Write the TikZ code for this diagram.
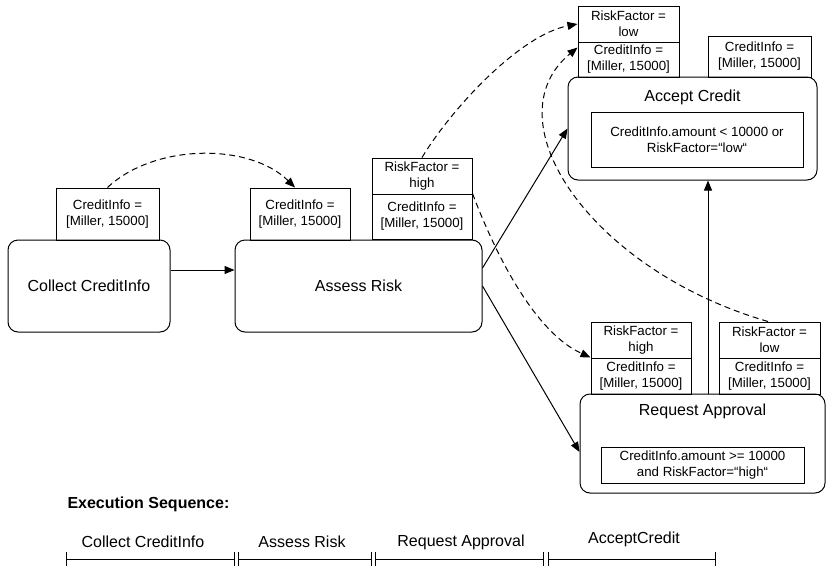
\documentclass[tikz,border=0pt]{standalone}
\usepackage{fontspec}
\setmainfont{Liberation Sans}
\usetikzlibrary{arrows.meta}
\newcommand{\cinfo}{CreditInfo =\\{[Miller, 15000]}}
\tikzset{
  act/.style={draw, rounded corners=10pt, line width=1pt, inner sep=0pt, font=\fontsize{16}{19}\selectfont},
  token/.style={draw, line width=1pt, inner sep=0pt, align=center, font=\fontsize{13.3}{16}\selectfont},
  guard/.style={draw, line width=0.9pt, inner sep=0pt, align=center, font=\fontsize{13.3}{16}\selectfont},
  big/.style={font=\fontsize{16}{19}\selectfont},
  flow/.style={line width=1pt, -{Triangle[length=10pt,width=8pt]}},
  moves/.style={flow, dash pattern=on 6pt off 4pt},
  seq/.style={line width=1pt, {Bar[width=14pt]}-{Bar[width=14pt]}},
}

\begin{document}
\begin{tikzpicture}[x=1pt, y=-1pt]
  \useasboundingbox (0,0) rectangle (826,568);

  % Aktivitaeten
  \node[act, minimum width=162, minimum height=92] (collect) at (89,286) {Collect CreditInfo};
  \node[act, minimum width=247, minimum height=92] (assess) at (358.5,286) {Assess Risk};
  \node[act, minimum width=249, minimum height=103] (accept) at (692.5,128.5) {};
  \node[big] (acceptT) at (692.5,97) {Accept Credit};
  \node[guard, minimum width=212, minimum height=55] (acceptG) at (697,139.5) {CreditInfo.amount < 10000 or\\RiskFactor=“low“};
  \node[act, minimum width=245, minimum height=99] (request) at (702.5,443.5) {};
  \node[big] (requestT) at (702.5,411) {Request Approval};
  \node[guard, minimum width=203, minimum height=36] (requestG) at (702.5,465) {CreditInfo.amount >= 10000\\and RiskFactor=“high“};

  % Daten
  \node[token, minimum width=103, minimum height=52] (tCollect) at (107.5,214) {\cinfo};
  \node[token, minimum width=100, minimum height=52] (tAssess) at (300,214) {\cinfo};
  \node[token, minimum width=100, minimum height=36] (hiA) at (422,176) {RiskFactor =\\high};
  \node[token, minimum width=100, minimum height=45] (hiAc) at (422,216.5) {\cinfo};
  \node[token, minimum width=101, minimum height=36] (loA) at (628.5,24) {RiskFactor =\\low};
  \node[token, minimum width=101, minimum height=35] (loAc) at (628.5,59.5) {\cinfo};
  \node[token, minimum width=103, minimum height=41] (tAccept) at (759.5,56.5) {\cinfo};
  \node[token, minimum width=100, minimum height=36] (hiB) at (641,340) {RiskFactor =\\high};
  \node[token, minimum width=100, minimum height=36] (hiBc) at (641,376) {\cinfo};
  \node[token, minimum width=101, minimum height=36] (loB) at (769.5,340) {RiskFactor =\\low};
  \node[token, minimum width=101, minimum height=36] (loBc) at (769.5,376) {\cinfo};

  % Kontrollfluss
  \draw[flow] ([yshift=16]collect.east) -- ([yshift=16]assess.west);
  \draw[flow] ([yshift=18]assess.east) -- (accept.west);
  \draw[flow] (assess.east) -- ([yshift=-8.5]request.west);
  \draw[flow] ([xshift=5.5]request.north) -- ([xshift=5.5]request.north |- accept.south);

  % Datenfluss
  \draw[moves] (tCollect.north) .. controls (155,143) and (250,143) .. ([xshift=-5]tAssess.north);
  \draw[moves] (hiA.north) .. controls (452,108) and (520,35) .. (loA.west);
  \draw[moves] (hiAc.north east) .. controls (490,240) and (530,330) .. (hiBc.north west);
  \draw[moves] ([xshift=-1.5]loB.north) .. controls (590,270) and (490,120) .. ([yshift=12]loAc.west);

  % Ausfuehrungsreihenfolge
  \node[font=\bfseries\fontsize{16}{19}\selectfont, anchor=west] (seqT) at (64,504) {Execution Sequence:};
  \coordinate (s0) at (66,559); \coordinate (s1) at (235,559); \coordinate (s2) at (238,559); \coordinate (s3) at (372,559);
  \coordinate (s4) at (375,559); \coordinate (s5) at (544,559); \coordinate (s6) at (548,559); \coordinate (s7) at (716,559);
  \draw[seq] (s0) -- (s1); \draw[seq] (s2) -- (s3); \draw[seq] (s4) -- (s5); \draw[seq] (s6) -- (s7);
  \node[big] (q1) at (143,542) {Collect CreditInfo};
  \node[big] (q2) at (302,542) {Assess Risk};
  \node[big] (q3) at (461,542) {Request Approval};
  \node[big] (q4) at (634,539) {AcceptCredit};
\end{tikzpicture}
\end{document}
